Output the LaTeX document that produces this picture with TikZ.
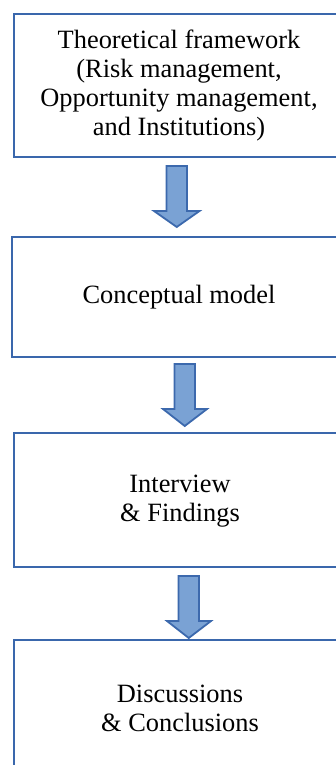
\documentclass[tikz,border=0pt]{standalone}
\usepackage{fontspec}
\setmainfont{Liberation Serif}
\usetikzlibrary{calc}
\definecolor{boxline}{HTML}{3A67AC}
\definecolor{arrowfill}{HTML}{7AA2D4}
\definecolor{arrowline}{HTML}{3C69AD}
\begin{document}
\begin{tikzpicture}[x=1pt,y=-1pt,
  stagebox/.style={draw=boxline, line width=2pt, fill=white},
  stagetext/.style={align=center, font=\fontsize{26.4}{29}\selectfont, inner sep=0pt},
  blockarrow/.style={fill=arrowfill, draw=arrowline, line width=1.8pt, line join=miter}]
\useasboundingbox (0,0) rectangle (336,765);
\clip (0,0) rectangle (336,765);

% stage boxes (their right edge and the last one's bottom run past the page)
\path[stagebox] (14,14) rectangle (344,157);
\node[stagetext] (theory) at (179,85.5)
  {Theoretical framework\\(Risk management,\\Opportunity management,\\and Institutions)};

\path[stagebox] (12,237) rectangle (344,357);
\node[stagetext] (concept) at (179,297) {Conceptual model};

\path[stagebox] (14,433) rectangle (344,567);
\node[stagetext] (interview) at (180,501) {Interview\\\& Findings};

\path[stagebox] (14,640) rectangle (344,790);
\node[stagetext] (discuss) at (180,708) {Discussions\\\& Conclusions};

% block arrows between stages: shaft left, shaft right, top, head base, head left, head right, tip
\newcommand{\blockarrowdown}[7]{%
  \draw[blockarrow] (#1,#3) -- (#2,#3) -- (#2,#4) -- (#6,#4) -- ({(#1+#2)/2},#7)
    -- (#5,#4) -- (#1,#4) -- cycle;}
\blockarrowdown{166.5}{187}{166}{211}{154}{199.5}{227}
\blockarrowdown{174.5}{195}{364}{409}{163}{207}{426}
\blockarrowdown{178.5}{199}{576}{621}{167}{211}{638}
\end{tikzpicture}
\end{document}
